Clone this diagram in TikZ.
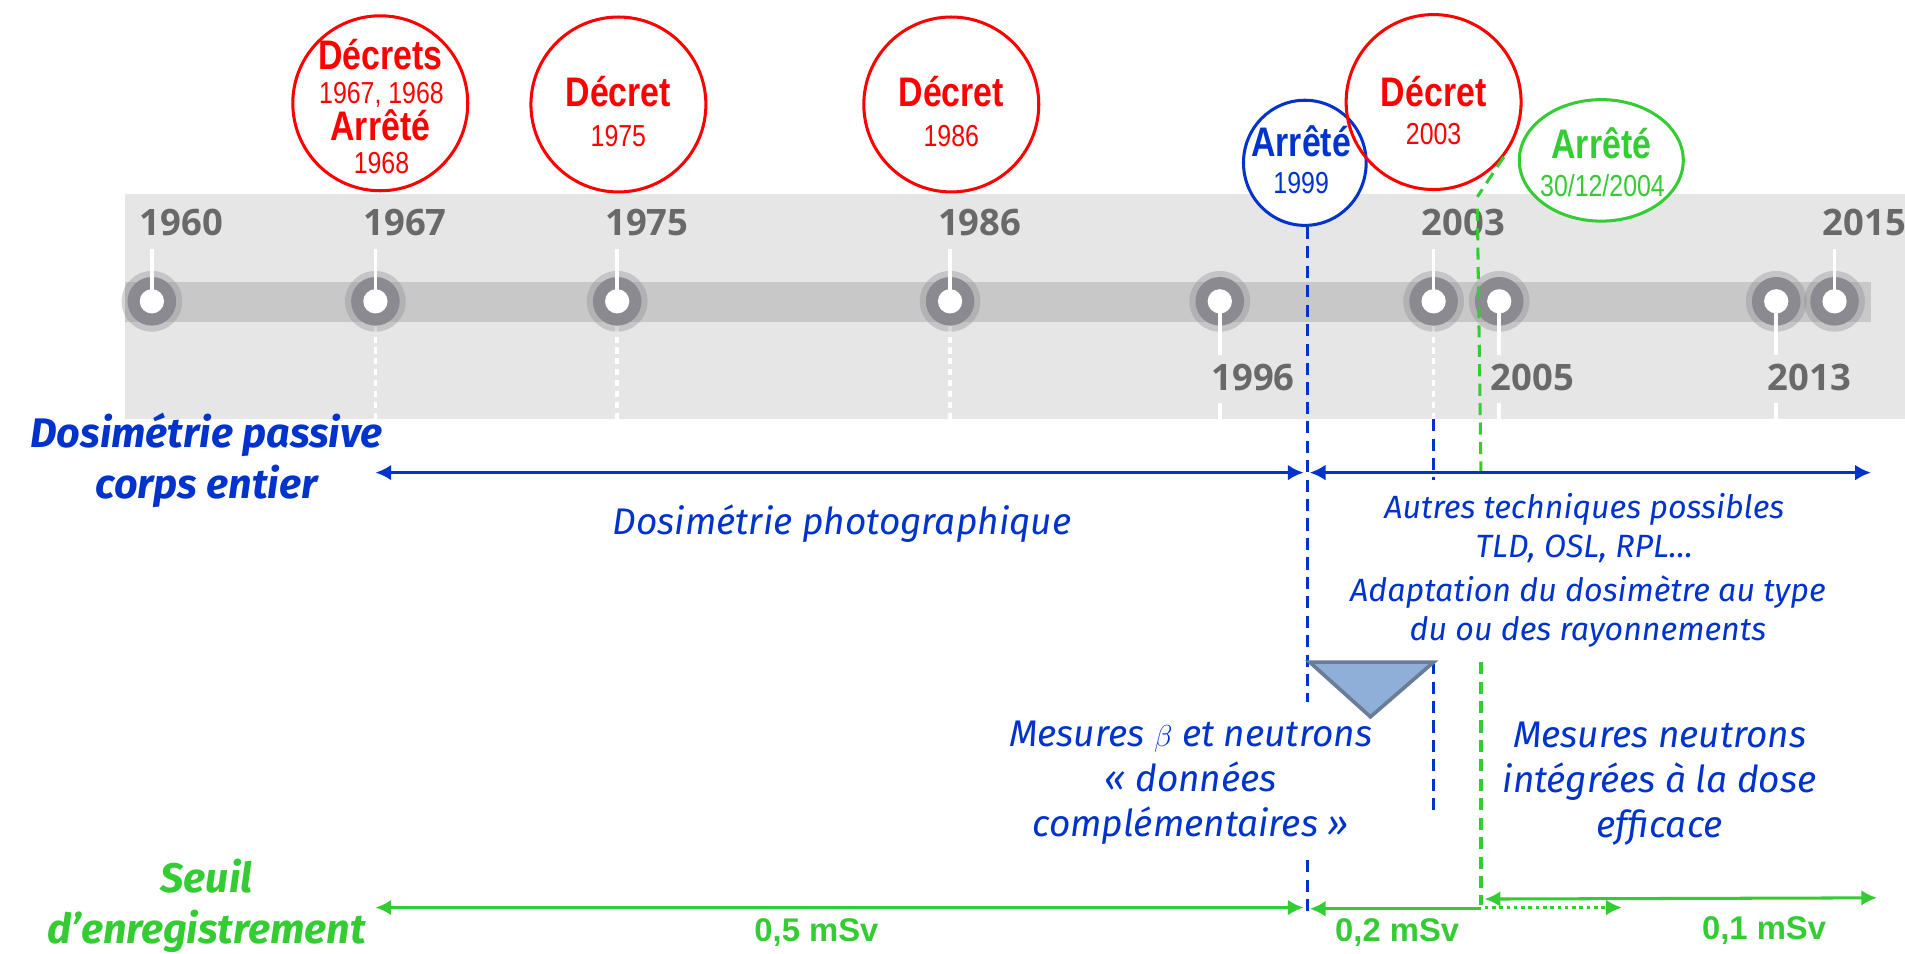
\documentclass[tikz,border=0pt]{standalone}
\usepackage{fontspec}
\usepackage{tikz}
\usetikzlibrary{shapes.geometric,arrows.meta}
\setmainfont{Fira Sans}
\newfontfamily\narrowfont[FakeStretch=0.82]{Liberation Sans}
\newfontfamily\arialfont{Liberation Sans}
\newfontfamily\yearfont{Open Sans}
\newcommand{\taille}[2]{\fontsize{#1}{#2}\selectfont}
\definecolor{bleu}{RGB}{0,51,204}
\definecolor{vert}{RGB}{51,204,51}
\definecolor{rouge}{RGB}{255,0,0}
\definecolor{bande}{RGB}{230,230,230}
\definecolor{piste}{RGB}{200,200,200}
\definecolor{anneau}{RGB}{138,138,144}
\definecolor{annee}{RGB}{105,105,105}
\definecolor{tri}{RGB}{143,174,216}
\definecolor{trib}{RGB}{106,125,152}
\tikzstyle{rond} = [ellipse, line width=2.5pt, inner sep=0pt]
\tikzstyle{decret} = [rond, draw=rouge, minimum width=144pt, minimum height=144pt]
\tikzstyle{gros} = [inner sep=0pt, font=\narrowfont\bfseries\taille{34}{40}]
\tikzstyle{petit} = [inner sep=0pt, font=\narrowfont\taille{25}{30}]
\tikzstyle{annee} = [anchor=west, inner sep=0pt, text=annee, font=\yearfont\bfseries\taille{30}{36}]
\tikzstyle{grand} = [align=center, font=\itshape\taille{30.5}{37}]
\tikzstyle{moyen} = [align=center, font=\itshape\taille{26.5}{32}]
\tikzstyle{titre} = [align=center, font=\bfseries\itshape\taille{34}{42}]
\tikzstyle{dose} = [text=vert, font=\arialfont\bfseries\taille{27}{32}]
\tikzstyle{fleche} = [line width=2.5pt, arrows={Latex[length=13pt,width=13pt]-Latex[length=13pt,width=13pt]}]
\tikzstyle{tiret} = [line width=2.5pt, dash pattern=on 10pt off 6pt]

\begin{document}
\begin{tikzpicture}[x=1pt,y=-1pt]
\useasboundingbox (0,0) rectangle (1568,785);

% frise chronologique
\fill[bande] (103,160) rectangle (1568,345);
\fill[piste] (103,232) rectangle (1540,265);
\foreach \x in {309,508,782,1180}
  \draw[white, line width=3pt, dash pattern=on 5pt off 4pt] (\x,268) -- (\x,345);
\foreach \x in {125,309,508,782,1004,1180,1234,1462,1510} {
  \fill[anneau, opacity=0.35] (\x,248) circle (25pt);
  \fill[anneau] (\x,248) circle (20pt);
  \fill[white] (\x,248) circle (10pt);
}
\foreach \x in {125,309,508,782,1180,1510}
  \draw[white, line width=3pt] (\x,248) -- (\x,205);
\foreach \x in {1004,1234,1462} {
  \draw[white, line width=3pt] (\x,248) -- (\x,292);
  \draw[white, line width=3pt] (\x,332) -- (\x,345);
}
\foreach \x/\an in {125/1960,309/1967,508/1975,782/1986,1180/2003,1510/2015}
  \node[annee] (a\an) at (\x-10,183) {\an};
\foreach \x/\an in {1004/1996,1234/2005,1462/2013}
  \node[annee] (a\an) at (\x-7,311) {\an};

% textes reglementaires
\node[decret] (c1967) at (313,85) {};
\node[decret] (c1975) at (509,86) {};
\node[decret] (c1986) at (783,86) {};
\node[rond, draw=bleu, fill=white, minimum width=101pt, minimum height=103pt] (c1999) at (1074,134) {};
\node[decret] (c2003) at (1180,84) {};
\node[rond, draw=vert, fill=white, minimum width=135pt, minimum height=100pt] (c2004) at (1318,132) {};

\node[gros, text=rouge] (t1967a) at (313,45) {Décrets};
\node[petit, text=rouge] (t1967b) at (314,78) {1967, 1968};
\node[gros, text=rouge] (t1967c) at (313,103) {Arrêté};
\node[petit, text=rouge] (t1967d) at (314,134) {1968};
\node[gros, text=rouge] (t1975a) at (509,75) {Décret};
\node[petit, text=rouge] (t1975b) at (509,112) {1975};
\node[gros, text=rouge] (t1986a) at (783,75) {Décret};
\node[petit, text=rouge] (t1986b) at (783,112) {1986};
\node[gros, text=rouge] (t2003a) at (1180,75) {Décret};
\node[petit, text=rouge] (t2003b) at (1180,110) {2003};
\node[gros, text=bleu] (t1999a) at (1071,116) {Arrêté};
\node[petit, text=bleu] (t1999b) at (1071,151) {1999};
\node[gros, text=vert] (t2004a) at (1318,118) {Arrêté};
\node[petit, text=vert] (t2004b) at (1319,153) {30/12/2004};

% reperes
\coordinate (l1) at (1076,578); \coordinate (l2) at (1076,708); \coordinate (l3) at (1076,750);
\coordinate (m1) at (1180,345); \coordinate (m2) at (1180,395);
\coordinate (m3) at (1180,545); \coordinate (m4) at (1180,670);
\coordinate (v1) at (1216,162); \coordinate (v2) at (1219,390);
\coordinate (v3) at (1219,545); \coordinate (v4) at (1219,745);

\draw[tiret, bleu] (c1999.south -| l1) -- (l1);
\draw[tiret, bleu] (l2) -- (l3);
\draw[tiret, bleu] (m1) -- (m2);
\draw[tiret, bleu] (m3) -- (m4);
\draw[tiret, vert] (c2003.-38) -- (v1);
\draw[tiret, vert] (v1 |- a2003.north) -- (v2);
\draw[tiret, vert] (v3) -- (v4);

\draw[fill=tri, draw=trib, line width=3pt] (1078,545) -- (m3) -- (1128,590) -- cycle;

% dosimetrie
\coordinate (b0) at (309,389); \coordinate (b1) at (1073,389);
\coordinate (b2) at (1078,389); \coordinate (b3) at (1540,389);
\draw[fleche, bleu] (b0) -- (b1);
\draw[fleche, bleu] (b2) -- (b3);

\node[titre, text=bleu] (passive) at (170,379) {Dosimétrie passive\\corps entier};
\node[grand, text=bleu] (photo) at (693,431) {Dosimétrie photographique};
\node[moyen, text=bleu] (autres) at (1304,435) {Autres techniques possibles\\TLD, OSL, RPL…};
\node[moyen, text=bleu] (adapt) at (1307,503) {Adaptation du dosimètre au type\\du ou des rayonnements};
\node[grand, text=bleu] (beta) at (980,644) {Mesures $\beta$ et neutrons\\«~données\\complémentaires~»};
\node[grand, text=bleu] (neutr) at (1366,645) {Mesures neutrons\\intégrées à la dose\\efficace};

% seuils
\coordinate (g0) at (309,747); \coordinate (g1) at (1073,747);
\coordinate (g2) at (1078,748); \coordinate (g3) at (1219,748);
\coordinate (g4) at (1222,740); \coordinate (g5) at (1545,739);
\coordinate (g6) at (1222,747); \coordinate (g7) at (1335,747);
\draw[fleche, vert] (g0) -- (g1);
\draw[line width=2.5pt, vert, arrows={Latex[length=13pt,width=13pt]-}] (g2) -- (g3);
\draw[fleche, vert] (g4) -- (g5);
\draw[line width=2.5pt, vert, dash pattern=on 3pt off 3pt, arrows={-Latex[length=13pt,width=13pt]}] (g6) -- (g7);

\node[titre, text=vert] (seuil) at (170,746) {Seuil\\d’enregistrement};
\node[dose] (d05) at (672,768) {0,5 mSv};
\node[dose] (d02) at (1150,768) {0,2 mSv};
\node[dose] (d01) at (1452,766) {0,1 mSv};
\end{tikzpicture}
\end{document}
